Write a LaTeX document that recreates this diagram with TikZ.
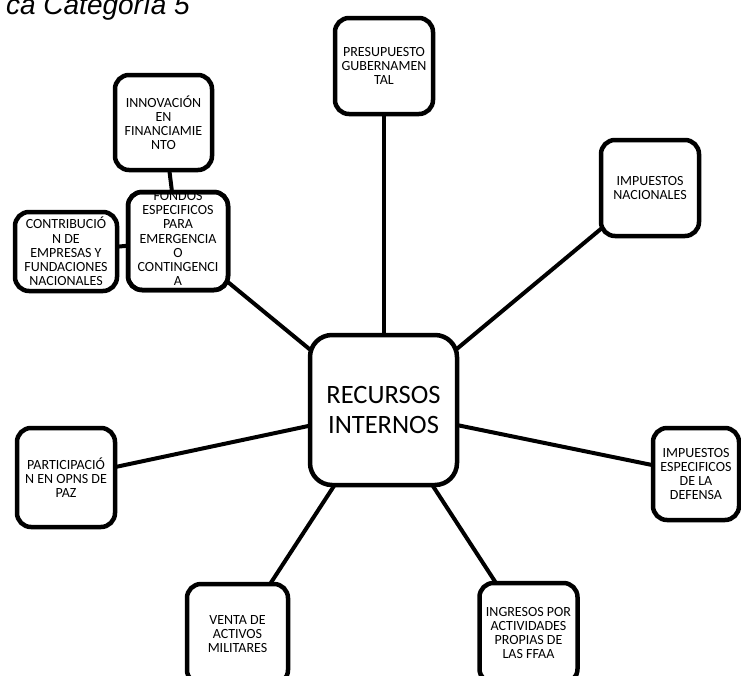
\documentclass[tikz,border=0pt]{standalone}
\usepackage{fontspec}
\setmainfont{Carlito}
\newfontfamily\titlefamily{Liberation Sans}
\usetikzlibrary{backgrounds}

\newcommand{\smalltxt}{\fontsize{14}{14.2}\selectfont}
\newcommand{\bigtxt}{\fontsize{26.5}{30}\selectfont}

\begin{document}
\begin{tikzpicture}[
  x=1pt, y=-1pt,
  box/.style={draw, line width=4.5pt, rounded corners=14pt, fill=white,
              align=center, inner sep=1pt, outer sep=0pt, font=\smalltxt,
              minimum width=98pt, minimum height=96pt},
  hub/.style={box, rounded corners=22pt, font=\bigtxt,
              minimum width=147pt, minimum height=150pt},
  link/.style={line width=4pt},
  ttl/.style={font=\titlefamily\itshape\fontsize{28}{30}\selectfont,
              anchor=base east, inner sep=0pt}
]
\useasboundingbox (0,0) rectangle (741,675);

\node[ttl] (title) at (190,14) {ca Categoría 5};

\node[hub] (rec) at (383.5,410) {RECURSOS\\INTERNOS};
\node[box] (pres) at (384,66) {PRESUPUESTO\\GUBERNAMEN\\TAL};
\node[box] (impnac) at (650,188) {IMPUESTOS\\NACIONALES};
\node[box, minimum width=86pt, minimum height=92pt] (impdef) at (696,474)
  {IMPUESTOS\\ESPECIFICOS\\DE LA\\DEFENSA};
\node[box, minimum height=100pt] (ingr) at (528.5,633)
  {INGRESOS POR\\ACTIVIDADES\\PROPIAS DE\\LAS FFAA};
\node[box, minimum width=101pt, minimum height=100pt] (venta) at (237.5,634)
  {VENTA DE\\ACTIVOS\\MILITARES};
\node[box, minimum height=99pt] (partic) at (66,477.5)
  {PARTICIPACIÓ\\N EN OPNS DE\\PAZ};
\node[box, minimum width=100pt, minimum height=98pt] (fondos) at (178,241) {};
\node[box, minimum width=97pt, minimum height=95pt] (innov) at (163.5,122.5)
  {INNOVACIÓN\\EN\\FINANCIAMIE\\NTO};
\node[box, minimum width=102pt, minimum height=79pt] (contrib) at (66,251.5)
  {CONTRIBUCIÓ\\N DE\\EMPRESAS Y\\FUNDACIONES\\NACIONALES};

% text of the crowded box is cut by its frame
\begin{scope}
  \clip[rounded corners=14pt] (fondos.south west) rectangle (fondos.north east);
  \node[align=center, font=\fontsize{14}{14.3}\selectfont, inner sep=0pt]
    (fondostxt) at ([yshift=2.5pt]fondos.center)
    {FONDOS\\ESPECIFICOS\\PARA\\EMERGENCIA\\O\\CONTINGENCI\\A};
\end{scope}
\draw[line width=4.5pt, rounded corners=14pt]
  (fondos.south west) rectangle (fondos.north east);

\begin{pgfonlayer}{background}
  \draw[link] (rec.center) -- (rec.center |- pres.center);
  \draw[link] (rec.center) -- (impnac.center);
  \draw[link] (rec.center) -- (impdef.center);
  \draw[link] (rec.center) -- (ingr.center);
  \draw[link] (rec.center) -- (venta.center);
  \draw[link] (rec.center) -- (partic.center);
  \draw[link] (rec.center) -- (fondos.center);
  \draw[link] (fondos.center) -- (innov.center);
  \draw[link] (fondos.center) -- (contrib.center);
\end{pgfonlayer}
\end{tikzpicture}
\end{document}
